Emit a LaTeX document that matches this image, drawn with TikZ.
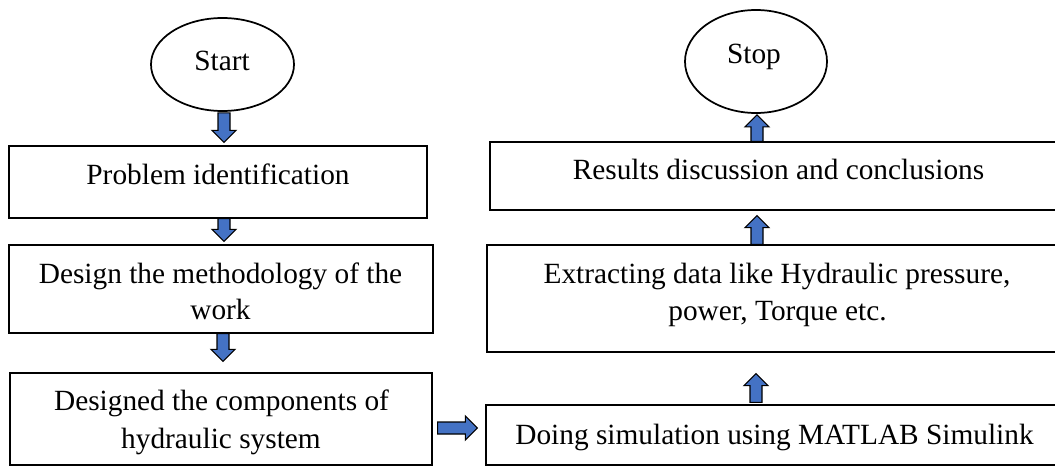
\documentclass[tikz,border=0pt]{standalone}
\usepackage{fontspec}
\setmainfont{Liberation Serif}
\usetikzlibrary{calc,shapes.geometric}
\definecolor{arrowblue}{HTML}{4472C4}
\tikzset{
  box/.style={draw=black, line width=1pt, rectangle, inner sep=0pt},
  oval/.style={draw=black, line width=1.3pt, ellipse, inner sep=0pt},
  txt/.style={anchor=base, inner sep=0pt, font=\fontsize{22}{26}\selectfont},
  % filled block arrow drawn from the start point to the tip
  blockarrow/.style={draw=black, fill=arrowblue, line width=0.8pt, line join=miter,
    to path={
      ($(\tikztotarget)!9pt!(\tikztostart)$) coordinate (ba-q)
      ($(\tikztostart)!4.5pt!90:(\tikztotarget)$)
      -- ($(ba-q)!4.5pt!90:(\tikztotarget)$)
      -- ($(ba-q)!9pt!90:(\tikztotarget)$)
      -- (\tikztotarget)
      -- ($(ba-q)!9pt!-90:(\tikztotarget)$)
      -- ($(ba-q)!4.5pt!-90:(\tikztotarget)$)
      -- ($(\tikztostart)!4.5pt!-90:(\tikztotarget)$)
      -- cycle}}
}
\begin{document}
\begin{tikzpicture}[x=0.75pt, y=-0.75pt]
\useasboundingbox (0,0) rectangle (1055,466);

% left column
\node[oval, minimum width=107.25pt, minimum height=69.75pt] (start) at (222.5,64.5) {};
\node[txt] (start-t) at (222,70.5) {Start};

\node[box, minimum width=313.5pt, minimum height=54pt] (problem) at (218,182) {};
\node[txt] (problem-t) at (218,184.5) {Problem identification};

\node[box, minimum width=318pt, minimum height=66pt] (design) at (221,289) {};
\node[txt] (design-t1) at (220.5,283.5) {Design the methodology of the};
\node[txt] (design-t2) at (220.5,319) {work};

\node[box, minimum width=316.5pt, minimum height=69pt] (designed) at (221,419) {};
\node[txt] (designed-t1) at (221.5,410) {Designed the components of};
\node[txt] (designed-t2) at (221,448) {hydraulic system};

% right column
\node[box, minimum width=430.5pt, minimum height=45pt] (doing) at (773,435) {};
\node[txt] (doing-t) at (774.5,444.5) {Doing simulation using MATLAB Simulink};

\node[box, minimum width=429.75pt, minimum height=80.25pt] (extract) at (773.5,298.5) {};
\node[txt] (extract-t1) at (777,283.5) {Extracting data like Hydraulic pressure,};
\node[txt] (extract-t2) at (777.5,320.5) {power, Torque etc.};

\node[box, minimum width=427.5pt, minimum height=51pt] (results) at (775,176) {};
\node[txt] (results-t) at (778.5,180) {Results discussion and conclusions};

\node[oval, minimum width=106.5pt, minimum height=77.25pt] (stop) at (756,61.5) {};
\node[txt] (stop-t) at (754,64) {Stop};

% flow arrows
\draw[blockarrow] ([xshift=1.125pt,yshift=-0.75pt]start.south) to ([xshift=4.5pt,yshift=2.25pt]problem.north);
\draw[blockarrow] ([xshift=4.5pt]problem.south) to ([xshift=2.25pt,yshift=2.25pt]design.north);
\draw[blockarrow] ([xshift=1.5pt]design.south) to ([xshift=1.5pt,yshift=8.25pt]designed.north);
\draw[blockarrow] ([xshift=3.75pt,yshift=-6.75pt]designed.east) to ([xshift=-6pt,yshift=5.25pt]doing.west);
\draw[blockarrow] ([xshift=-12.75pt,yshift=1.5pt]doing.north) to ([xshift=-13.125pt,yshift=-15.75pt]extract.south);
\draw[blockarrow] ([xshift=-12.375pt]extract.north) to ([xshift=-13.5pt,yshift=-3.75pt]results.south);
\draw[blockarrow] ([xshift=-13.5pt]results.north) to ([xshift=0.75pt,yshift=-0.75pt]stop.south);
\end{tikzpicture}
\end{document}
